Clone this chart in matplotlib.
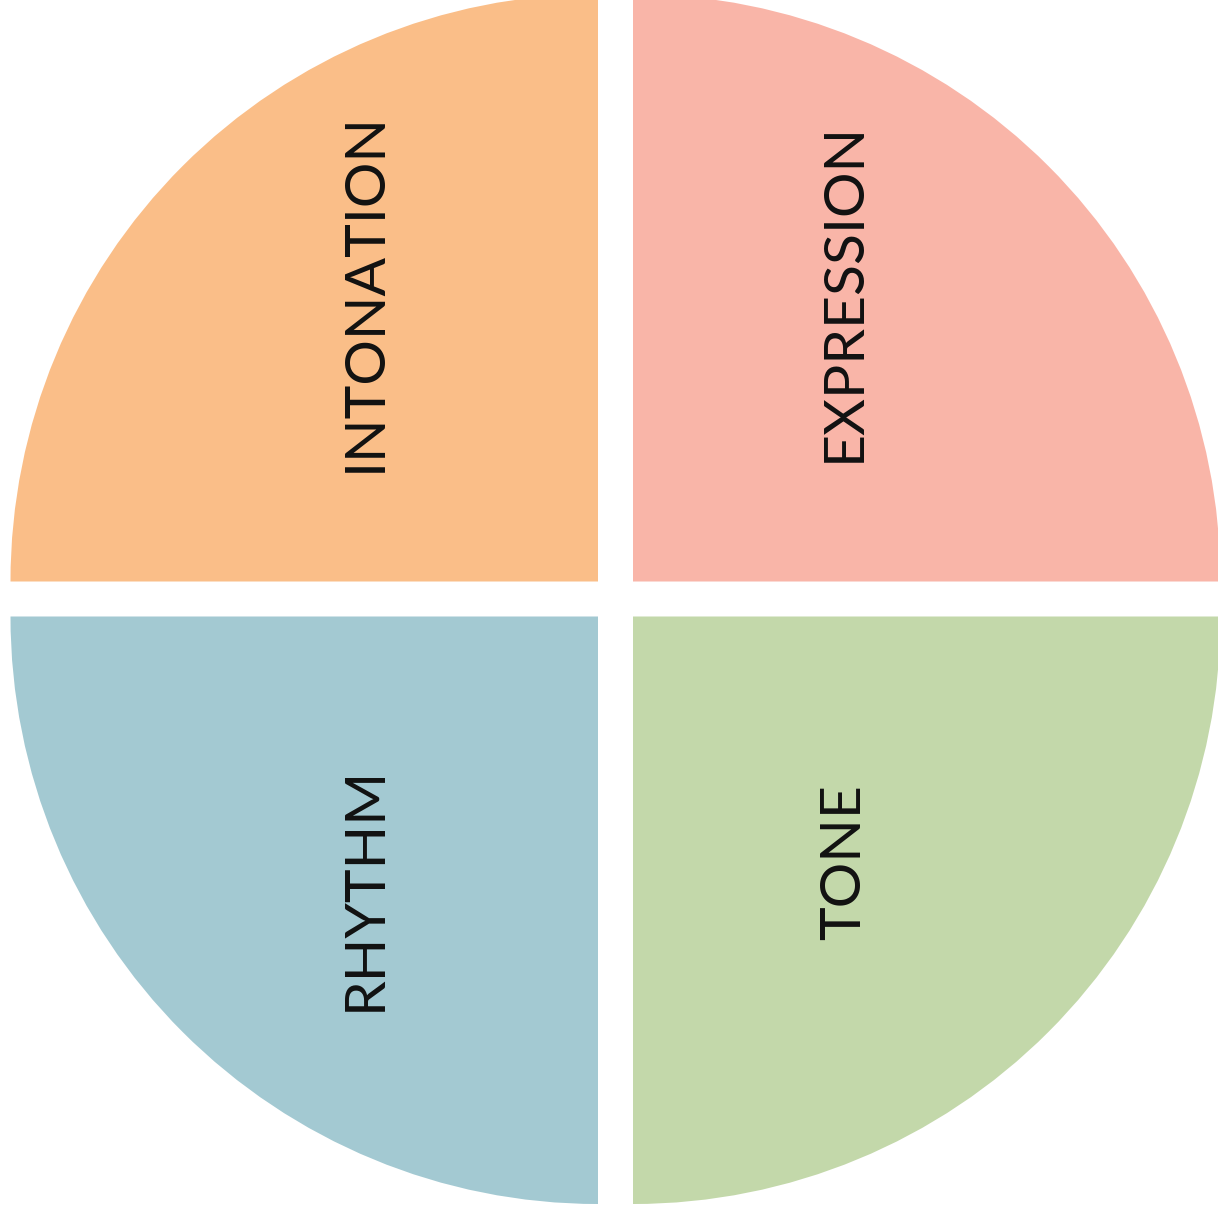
import matplotlib.pyplot as plt

categories = ["INTONATION", "EXPRESSION", "TONE", "RHYTHM"]
values = [1, 1, 1, 1]
colors = ["#FABE88", "#F9B5A8", "#C3D8AA", "#A3C9D2"]

# label anchor points, in units of the pie radius
label_x = [-0.426, 0.390, 0.390, -0.426]
label_y = [0.522, 0.522, -0.448, -0.492]

R_PX = 587.5
CX, CY = 615.5, 599.0
W, H = 1218, 1215

fig = plt.figure(figsize=(W / 100, H / 100), dpi=100)
ax = fig.add_axes([0, 0, 1, 1])

ax.pie(values, colors=colors, startangle=180, counterclock=False,
       radius=1.0, explode=[24.75 / R_PX] * len(values),
       wedgeprops=dict(linewidth=0))

for name, x, y in zip(categories, label_x, label_y):
    ax.text(x, y, name, rotation=90, ha="center", va="center",
            fontsize=41, fontweight="normal", family=["Lato", "DejaVu Sans"],
            color="#111111")

ax.set_xlim(-CX / R_PX, (W - CX) / R_PX)
ax.set_ylim(-(H - CY) / R_PX, CY / R_PX)
ax.set_aspect("equal")
ax.axis("off")

fig.savefig("out.png", dpi=100, facecolor="white")
